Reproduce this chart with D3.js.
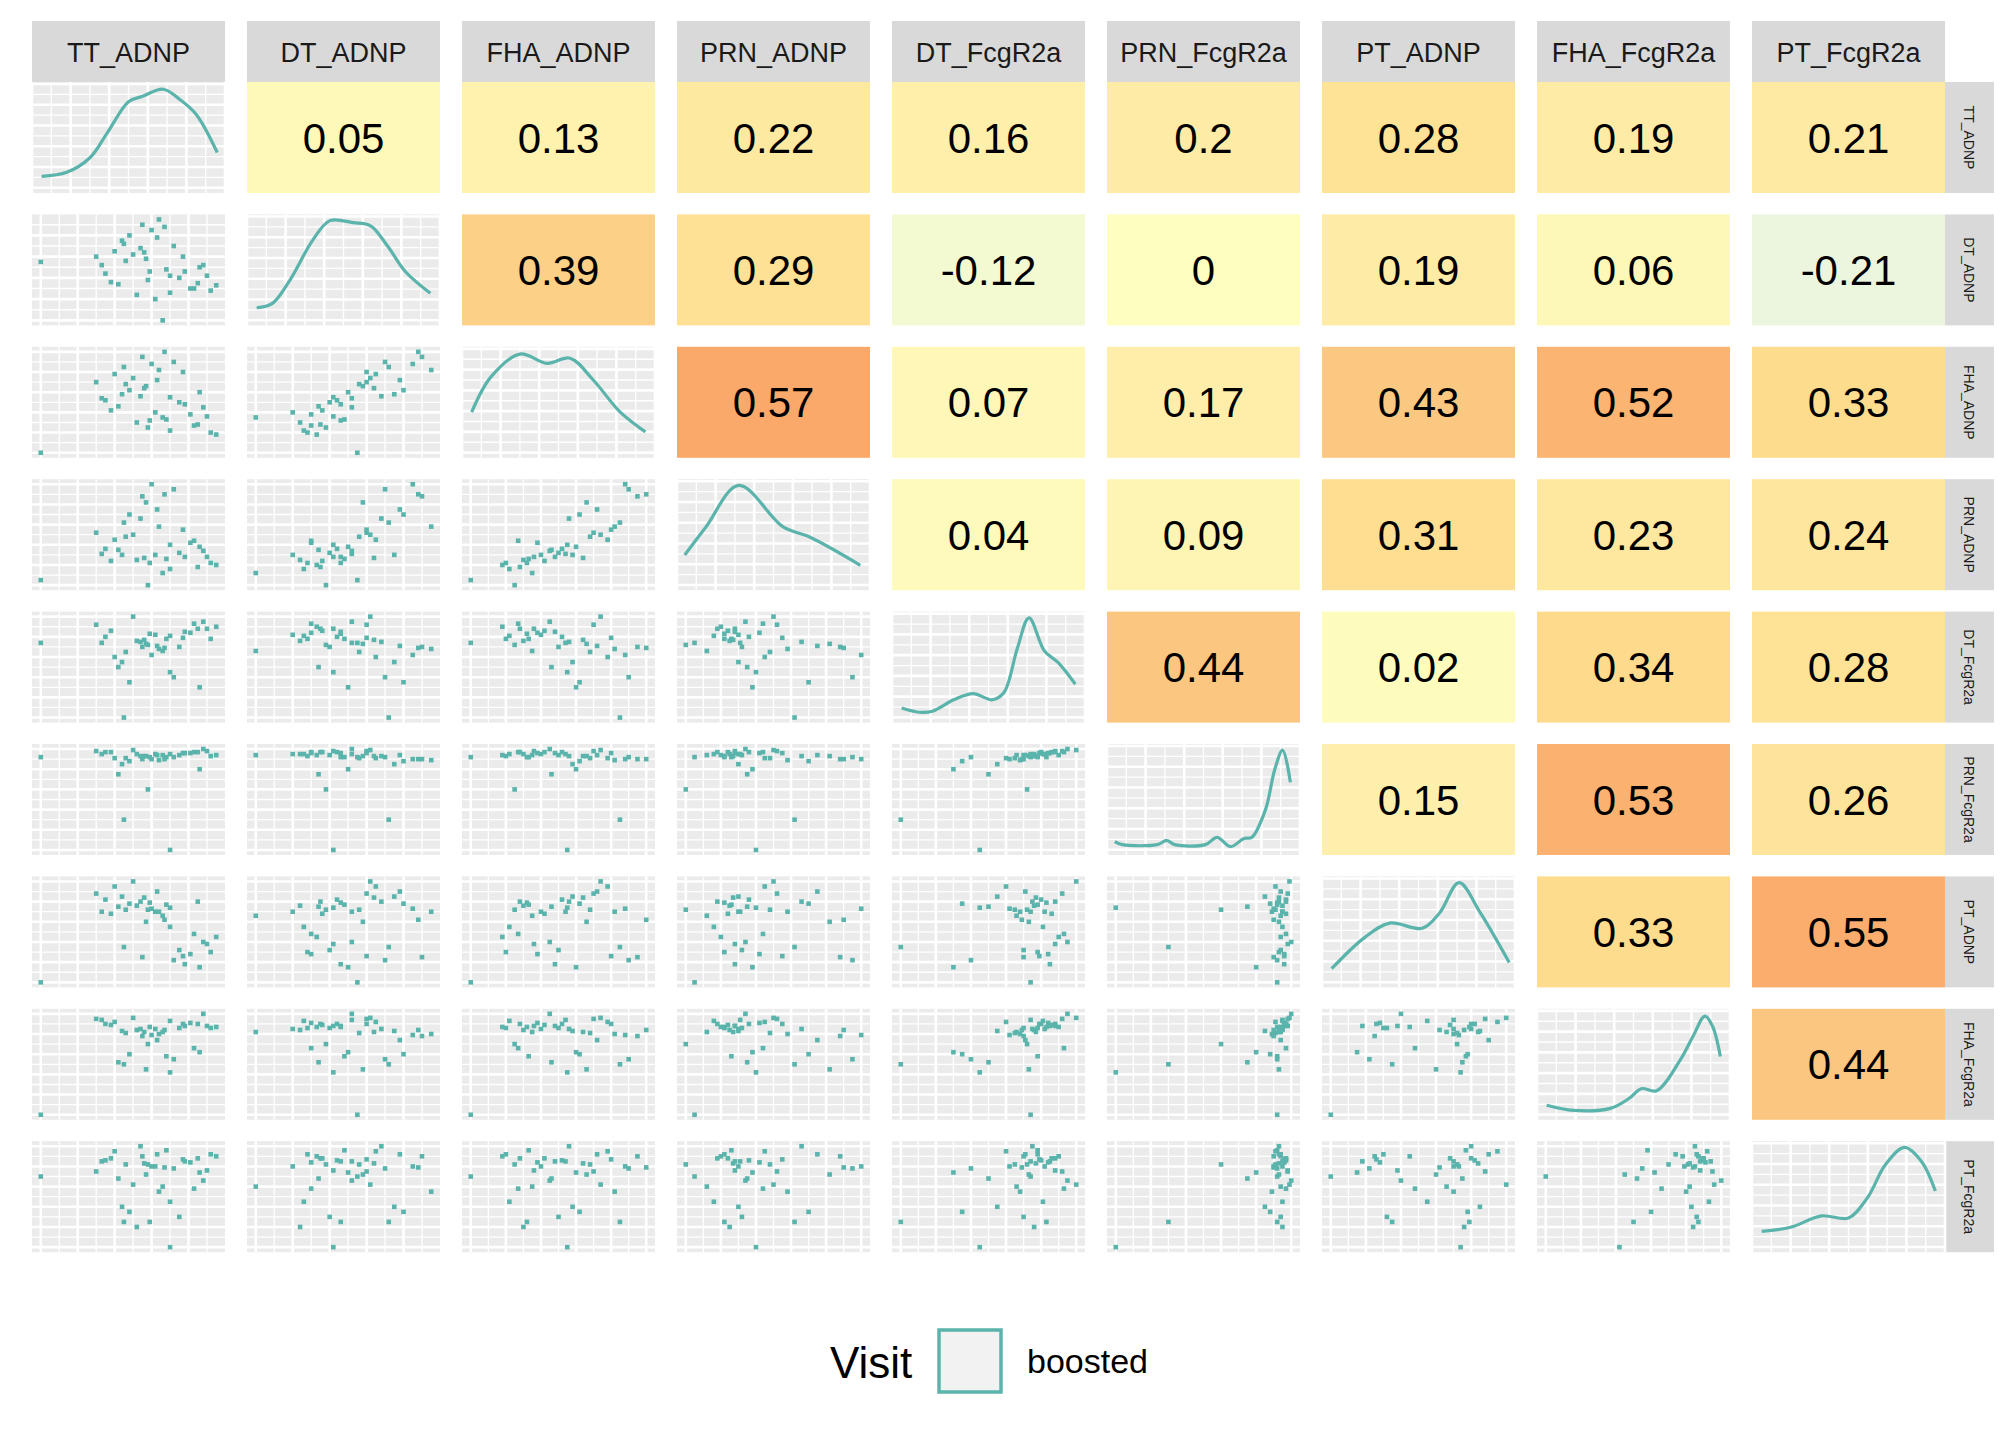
<!DOCTYPE html>
<html>
<head>
<meta charset="utf-8">
<script src="https://cdn.jsdelivr.net/npm/d3@7"></script>
<style>
  body { margin: 0; background: #fff; }
  text { font-family: "Liberation Sans", Arial, sans-serif; }
</style>
</head>
<body>
<script>
// variables, in panel order
var vars = ["TT_ADNP", "DT_ADNP", "FHA_ADNP", "PRN_ADNP", "DT_FcgR2a",
            "PRN_FcgR2a", "PT_ADNP", "FHA_FcgR2a", "PT_FcgR2a"];

// upper triangle correlations, row by row
var corrValues = [
  ["0.05", "0.13", "0.22", "0.16", "0.2", "0.28", "0.19", "0.21"],
  ["0.39", "0.29", "-0.12", "0", "0.19", "0.06", "-0.21"],
  ["0.57", "0.07", "0.17", "0.43", "0.52", "0.33"],
  ["0.04", "0.09", "0.31", "0.23", "0.24"],
  ["0.44", "0.02", "0.34", "0.28"],
  ["0.15", "0.53", "0.26"],
  ["0.33", "0.55"],
  ["0.44"]
];

// observations (scaled values), one array per variable
var TT_ADNP    = [0.62,0.00,0.45,0.85,0.55,0.70,0.30,0.92,0.66,0.48,0.78,0.58,0.40,0.88,0.52,0.72,0.35,0.64,0.95,0.57,0.44,0.81,0.68,0.50,0.75,0.60,0.38,0.86,0.54,0.70,0.46,0.90,0.63,0.42,0.77,0.59,0.67,0.33,0.83,0.56];
var DT_ADNP    = [0.20,0.55,0.72,0.35,0.90,0.42,0.60,0.28,0.00,0.80,0.46,0.38,0.65,0.52,0.24,0.70,0.44,0.95,0.33,0.58,0.75,0.30,0.48,0.62,0.40,0.85,0.36,0.50,0.68,0.26,0.56,0.42,0.78,0.34,0.60,0.46,0.88,0.52,0.30,0.64];
var FHA_ADNP   = [0.40,0.00,0.85,0.28,0.95,0.55,0.70,0.20,0.35,0.62,0.48,0.25,0.78,0.45,0.30,0.90,0.52,0.82,0.18,0.66,0.58,0.38,0.33,0.74,0.50,0.88,0.42,0.60,0.56,0.22,0.68,0.36,0.72,0.46,0.80,0.32,1.00,0.54,0.27,0.64];
var PRN_ADNP   = [0.30,0.05,0.62,0.18,0.88,0.40,0.52,0.22,0.12,0.70,0.28,0.00,0.45,0.34,0.25,0.95,0.36,0.58,0.20,0.82,0.30,0.42,0.26,0.50,0.32,1.00,0.24,0.38,0.66,0.16,0.48,0.28,0.75,0.35,0.55,0.22,0.90,0.31,0.44,0.27];
var DT_FcgR2a  = [0.82,0.74,0.00,0.88,0.70,0.45,0.92,0.78,0.66,0.35,0.85,0.72,0.60,0.95,0.76,0.40,0.80,0.68,0.90,0.73,0.55,0.84,0.78,1.00,0.70,0.62,0.86,0.30,0.75,0.81,0.65,0.88,0.71,0.50,0.79,0.83,0.69,0.74,0.93,0.77];
var PRN_FcgR2a = [0.95,0.92,0.30,0.97,0.90,0.00,0.98,0.93,0.94,0.88,0.96,0.60,0.91,1.00,0.95,0.92,0.97,0.89,0.94,0.93,0.85,0.96,0.92,0.99,0.94,0.90,0.97,0.80,0.93,0.95,0.91,0.98,0.94,0.75,0.96,0.92,0.90,0.95,0.97,0.93];
var PT_ADNP    = [0.70,0.00,0.35,0.80,0.25,0.74,0.88,0.30,0.66,0.78,0.18,0.72,0.95,0.40,0.76,0.22,0.82,0.70,0.45,0.60,0.85,0.28,0.77,1.00,0.32,0.73,0.68,0.15,0.80,0.55,0.72,0.38,0.90,0.75,0.26,0.79,0.62,0.70,0.48,0.84];
var FHA_FcgR2a = [0.85,0.00,0.50,0.90,0.78,0.42,0.95,0.86,0.82,0.60,0.88,0.70,0.92,1.00,0.84,0.55,0.90,0.80,0.87,0.45,0.83,0.91,0.58,0.96,0.86,0.79,0.89,0.62,0.85,0.93,0.81,0.88,0.74,0.52,0.90,0.87,0.84,0.94,0.66,0.82];
var PT_FcgR2a  = [0.80,0.70,0.25,0.88,0.90,0.00,0.75,0.92,0.60,0.35,0.85,0.82,0.95,0.66,0.20,0.78,0.86,0.55,0.90,0.72,0.40,0.84,0.96,0.62,0.30,0.80,0.88,0.74,1.00,0.45,0.82,0.76,0.92,0.68,0.87,0.25,0.79,0.85,0.58,0.83];
var obs = [TT_ADNP, DT_ADNP, FHA_ADNP, PRN_ADNP, DT_FcgR2a, PRN_FcgR2a, PT_ADNP, FHA_FcgR2a, PT_FcgR2a];

// density curves read from the diagonal: [x fraction, height fraction]
var densities = [
  [[0.05,0.11],[0.18,0.15],[0.3,0.29],[0.39,0.53],[0.5,0.83],[0.57,0.88],[0.68,0.95],[0.76,0.86],[0.85,0.71],[0.96,0.34]],
  [[0.05,0.12],[0.13,0.16],[0.22,0.38],[0.34,0.77],[0.43,0.96],[0.55,0.94],[0.64,0.91],[0.73,0.71],[0.82,0.47],[0.95,0.26]],
  [[0.05,0.39],[0.15,0.73],[0.3,0.95],[0.44,0.86],[0.56,0.91],[0.68,0.70],[0.82,0.39],[0.95,0.2]],
  [[0.04,0.29],[0.15,0.56],[0.32,0.96],[0.55,0.56],[0.69,0.46],[0.95,0.19]],
  [[0.05,0.09],[0.14,0.05],[0.21,0.06],[0.32,0.17],[0.42,0.23],[0.52,0.17],[0.58,0.24],[0.65,0.67],[0.71,0.96],[0.79,0.64],[0.86,0.53],[0.95,0.32]],
  [[0.04,0.08],[0.08,0.05],[0.26,0.05],[0.31,0.09],[0.35,0.05],[0.51,0.05],[0.57,0.12],[0.64,0.03],[0.71,0.11],[0.75,0.12],[0.82,0.38],[0.87,0.78],[0.91,0.96],[0.95,0.65]],
  [[0.05,0.13],[0.22,0.43],[0.35,0.57],[0.52,0.52],[0.61,0.67],[0.71,0.96],[0.82,0.67],[0.97,0.19]],
  [[0.05,0.09],[0.19,0.04],[0.38,0.06],[0.48,0.16],[0.54,0.25],[0.62,0.23],[0.74,0.52],[0.81,0.76],[0.87,0.95],[0.91,0.85],[0.95,0.56]],
  [[0.05,0.15],[0.2,0.19],[0.36,0.3],[0.5,0.28],[0.6,0.48],[0.69,0.79],[0.79,0.96],[0.88,0.82],[0.95,0.54]]
];

var teal = "#5ab4ac";
var x0 = 32, pitchX = 215, panelW = 193;
var y0 = 82, pitchY = 132.4, panelH = 111;

var svg = d3.select("body").append("svg")
  .attr("width", 2016).attr("height", 1440);

var corrColor = d3.scaleLinear()
  .domain([-0.25, 0, 0.2, 0.33, 0.44, 0.57])
  .range(["#e8f4e4", "#fefec0", "#feeba5", "#fedc8d", "#fbc680", "#fba96a"]);

// column strips
vars.forEach(function(v, i) {
  svg.append("rect").attr("x", x0 + i * pitchX).attr("y", 21)
    .attr("width", panelW).attr("height", y0 - 21).attr("fill", "#d9d9d9");
  svg.append("text").attr("x", x0 + i * pitchX + panelW / 2).attr("y", 62)
    .attr("text-anchor", "middle").attr("font-size", 27).attr("fill", "#1a1a1a").text(v);
  // row strips
  var ry = y0 + i * pitchY;
  svg.append("rect").attr("x", x0 + 8 * pitchX + panelW).attr("y", ry)
    .attr("width", 49).attr("height", panelH).attr("fill", "#d9d9d9");
  svg.append("text")
    .attr("transform", "translate(" + (x0 + 8 * pitchX + panelW + 19) + "," + (ry + panelH / 2) + ") rotate(90)")
    .attr("text-anchor", "middle").attr("font-size", 14).attr("fill", "#1a1a1a").text(v);
});

function drawGrid(g, xs, ys) {
  g.append("rect").attr("width", panelW).attr("height", panelH).attr("fill", "#ebebeb");
  var xt = xs.ticks(5), yt = ys.ticks(4);
  var xm = xs.ticks(10), ym = ys.ticks(8);
  xm.forEach(function(t) {
    g.append("line").attr("x1", xs(t)).attr("x2", xs(t)).attr("y1", 0).attr("y2", panelH)
      .attr("stroke", "#fff").attr("stroke-width", xt.indexOf(t) >= 0 ? 2.6 : 1.3);
  });
  ym.forEach(function(t) {
    g.append("line").attr("y1", ys(t)).attr("y2", ys(t)).attr("x1", 0).attr("x2", panelW)
      .attr("stroke", "#fff").attr("stroke-width", yt.indexOf(t) >= 0 ? 2.6 : 1.3);
  });
}

for (var r = 0; r < 9; r++) {
  for (var c = 0; c < 9; c++) {
    var g = svg.append("g")
      .attr("transform", "translate(" + (x0 + c * pitchX) + "," + (y0 + r * pitchY) + ")");
    if (c > r) {
      var val = corrValues[r][c - r - 1];
      g.append("rect").attr("width", panelW).attr("height", panelH).attr("fill", corrColor(+val));
      g.append("text").attr("x", panelW / 2).attr("y", panelH / 2 + 15)
        .attr("text-anchor", "middle").attr("font-size", 42).attr("fill", "#000").text(val);
    } else if (c === r) {
      var xs = d3.scaleLinear().domain([0, 1]).range([0, panelW]);
      var ys = d3.scaleLinear().domain([-0.05, 1.02]).range([panelH, 0]);
      drawGrid(g, xs, ys);
      g.append("path").datum(densities[r])
        .attr("d", d3.line().x(d => xs(d[0])).y(d => ys(d[1])).curve(d3.curveCatmullRom))
        .attr("fill", "none").attr("stroke", teal).attr("stroke-width", 3.2);
    } else {
      var xd = obs[c], yd = obs[r];
      var xe = d3.extent(xd), ye = d3.extent(yd);
      var xs2 = d3.scaleLinear().domain([xe[0] - 0.05 * (xe[1] - xe[0]), xe[1] + 0.05 * (xe[1] - xe[0])]).range([0, panelW]);
      var ys2 = d3.scaleLinear().domain([ye[0] - 0.05 * (ye[1] - ye[0]), ye[1] + 0.05 * (ye[1] - ye[0])]).range([panelH, 0]);
      drawGrid(g, xs2, ys2);
      g.selectAll("rect.pt").data(d3.range(xd.length)).enter().append("rect")
        .attr("class", "pt")
        .attr("x", i => xs2(xd[i]) - 2.3).attr("y", i => ys2(yd[i]) - 2.3)
        .attr("width", 4.6).attr("height", 4.6).attr("fill", teal);
    }
  }
}

// legend
svg.append("text").attr("x", 830).attr("y", 1378).attr("font-size", 44).text("Visit");
svg.append("rect").attr("x", 939).attr("y", 1330).attr("width", 62).attr("height", 62)
  .attr("fill", "#f2f2f2").attr("stroke", teal).attr("stroke-width", 3.5);
svg.append("text").attr("x", 1027).attr("y", 1373).attr("font-size", 34).text("boosted");
</script>
</body>
</html>
